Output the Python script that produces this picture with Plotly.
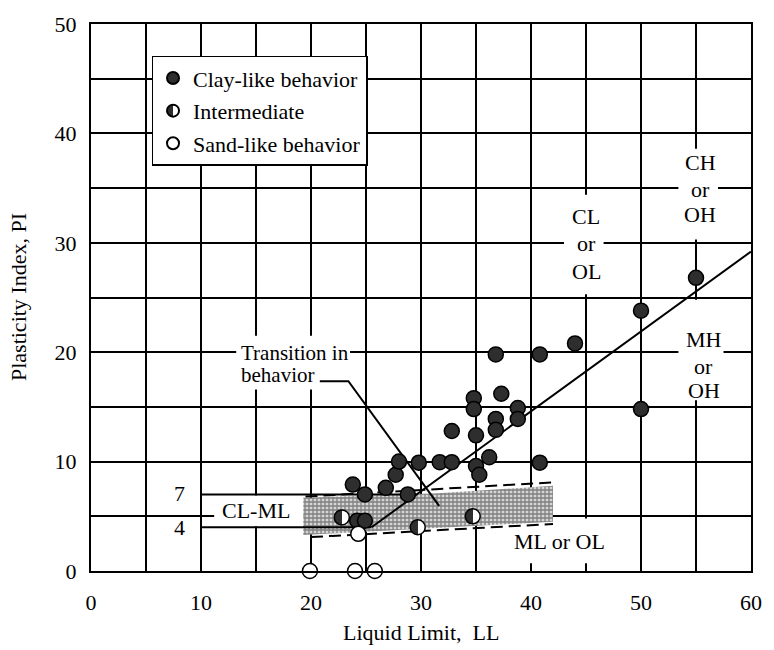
import plotly.graph_objects as go

# Soil samples: liquid limit (LL) and plasticity index (PI)
clay_ll = [23.8, 24.9, 24.2, 24.9, 26.8, 27.7, 28.0, 28.8, 29.8, 31.7, 32.8, 32.8,
           34.8, 34.8, 35.0, 35.0, 35.3, 36.2, 36.8, 36.8, 36.8, 37.3, 38.8, 38.8,
           40.8, 40.8, 44.0, 50.0, 50.0, 55.0]
clay_pi = [7.9, 7.0, 4.6, 4.6, 7.6, 8.8, 10.0, 7.0, 9.9, 9.95, 9.95, 12.8,
           15.8, 14.8, 12.4, 9.6, 8.8, 10.4, 19.8, 13.9, 12.9, 16.2, 14.9, 13.9,
           19.8, 9.9, 20.8, 23.8, 14.8, 26.8]

mid_ll = [22.8, 29.7, 34.7]
mid_pi = [4.9, 4.0, 5.0]

sand_ll = [19.9, 24.0, 25.8, 24.3]
sand_pi = [0.0, 0.0, 0.0, 3.4]

# Casagrande A-line and the CL-ML limits
aline_ll = [25.5, 60.0]
aline_pi = [4.0, 29.2]
pi7_ll = [10.0, 29.6]
pi7_pi = [7.0, 7.0]
pi4_ll = [10.0, 25.5]
pi4_pi = [4.0, 4.0]

# Transition zone (shaded band) and its dashed bounds
band_top_ll = [19.3, 31.5, 42.0]
band_top_pi = [6.7, 7.1, 7.8]
band_bot_ll = [42.0, 19.3]
band_bot_pi = [4.5, 3.3]
dash_top_ll = [19.5, 42.0]
dash_top_pi = [6.8, 8.1]
dash_bot_ll = [20.0, 42.0]
dash_bot_pi = [3.1, 4.3]

# Leader line from the "Transition in behavior" note
lead_ll = [20.8, 23.4, 31.65]
lead_pi = [17.35, 17.35, 5.95]

SERIF = "Liberation Serif"
FS = 22

fig = go.Figure()

# white masks behind the text labels (above grid, below traces)
masks = [
    (13.2, 16.6, 23.55, 21.5),   # Transition in behavior
    (11.2, 4.1, 19.3, 6.9),      # CL-ML
    (43.0, 25.3, 46.6, 34.4),    # CL or OL
    (53.4, 30.3, 57.0, 38.6),    # CH or OH
    (53.4, 15.6, 57.5, 24.8),    # MH or OH
    (38.1, 0.7, 47.2, 4.8),      # ML or OL
]
for x0, y0, x1, y1 in masks:
    fig.add_shape(type="rect", xref="x", yref="y", x0=x0, y0=y0, x1=x1, y1=y1,
                  fillcolor="white", line=dict(width=0), layer="between")

# shaded transition band
fig.add_trace(go.Scatter(
    x=band_top_ll + band_bot_ll + band_top_ll[:1],
    y=band_top_pi + band_bot_pi + band_top_pi[:1],
    mode="lines", fill="toself", line=dict(width=0),
    fillcolor="#c0c0c0",
    fillpattern=dict(shape="+", size=4, solidity=0.55, fgcolor="#2a2a2a", bgcolor="#d6d6d6"),
    hoverinfo="skip", showlegend=False))

for xs, ys in [(dash_top_ll, dash_top_pi), (dash_bot_ll, dash_bot_pi)]:
    fig.add_trace(go.Scatter(x=xs, y=ys, mode="lines",
                             line=dict(color="black", width=2, dash="12px,6px"),
                             hoverinfo="skip", showlegend=False))

for xs, ys in [(aline_ll, aline_pi), (pi7_ll, pi7_pi), (pi4_ll, pi4_pi), (lead_ll, lead_pi)]:
    fig.add_trace(go.Scatter(x=xs, y=ys, mode="lines",
                             line=dict(color="black", width=2),
                             hoverinfo="skip", showlegend=False))

# sample points
fig.add_trace(go.Scatter(
    x=clay_ll, y=clay_pi, mode="markers", name="Clay-like behavior",
    legendgroup="a",
    marker=dict(size=15, color="#2e2e2e", line=dict(color="black", width=1.5)),
    cliponaxis=False))
fig.add_trace(go.Scatter(
    x=mid_ll, y=mid_pi, mode="markers", name="Intermediate",
    legendgroup="b",
    marker=dict(size=15, color="#2e2e2e", line=dict(color="black", width=1.5),
                gradient=dict(type="horizontal", color="white")),
    cliponaxis=False))
fig.add_trace(go.Scatter(
    x=sand_ll, y=sand_pi, mode="markers", name="Sand-like behavior",
    legendgroup="c",
    marker=dict(size=15, color="white", line=dict(color="black", width=1.5)),
    cliponaxis=False))

# region labels
labels = [
    ("CL", 45.0, 32.4), ("or", 45.0, 29.9), ("OL", 45.0, 27.4),
    ("CH", 55.4, 37.3), ("or", 55.4, 34.9), ("OH", 55.4, 32.6),
    ("MH", 55.7, 21.2), ("or", 55.7, 18.7), ("OH", 55.7, 16.5),
    ("ML or OL", 42.6, 2.7), ("CL-ML", 15.0, 5.5),
    ("7", 8.0, 7.05), ("4", 8.0, 4.0),
]
for txt, lx, ly in labels:
    fig.add_annotation(x=lx, y=ly, xref="x", yref="y", text=txt, showarrow=False,
                       font=dict(family=SERIF, size=FS, color="black"))

for txt, ly in [("Transition in", 19.9), ("behavior", 17.9)]:
    fig.add_annotation(x=13.45, y=ly, xref="x", yref="y", xanchor="left", text=txt,
                       showarrow=False, font=dict(family=SERIF, size=21, color="black"))

# axis titles
fig.add_annotation(x=0.5, y=-0.112, xref="paper", yref="paper", yanchor="middle",
                   text="Liquid Limit,  LL", showarrow=False,
                   font=dict(family=SERIF, size=FS, color="black"))
fig.add_annotation(x=-0.1098, y=0.5, xref="paper", yref="paper", xanchor="center",
                   yanchor="middle", text="Plasticity Index, PI",
                   textangle=-90, showarrow=False,
                   font=dict(family=SERIF, size=FS, color="black"))

axis_common = dict(
    showgrid=True, gridcolor="black", gridwidth=2,
    showline=True, linecolor="black", linewidth=2, mirror=True,
    zeroline=False, ticks="", tickfont=dict(family=SERIF, size=FS, color="black"),
)
fig.update_xaxes(range=[0, 60], tick0=0, dtick=10, ticklabelstandoff=11,
                 minor=dict(dtick=5, showgrid=True, gridcolor="black", gridwidth=2),
                 **axis_common)
fig.update_yaxes(range=[0, 50], tick0=0, dtick=10, ticklabelstandoff=8,
                 minor=dict(dtick=5, showgrid=True, gridcolor="black", gridwidth=2),
                 **axis_common)

fig.update_layout(
    width=774, height=650,
    margin=dict(l=91, r=18, t=18, b=79),
    paper_bgcolor="white", plot_bgcolor="white",
    font=dict(family=SERIF, size=FS, color="black"),
    legend=dict(x=0.0917, y=0.942, xanchor="left", yanchor="top",
                bgcolor="white", bordercolor="black", borderwidth=1.5,
                font=dict(family=SERIF, size=FS, color="black"),
                itemsizing="constant", tracegroupgap=1, traceorder="grouped"),
)

# give the intermediate markers a hard half/half split instead of a smooth blend
half_fill = """
(function(){
  function split(){
    document.querySelectorAll('linearGradient').forEach(function(g){
      var stops = g.querySelectorAll('stop');
      stops.forEach(function(s){ s.setAttribute('offset', '50%'); });
    });
  }
  split();
  setTimeout(split, 50);
  setTimeout(split, 300);
  var gd = document.getElementById('{plot_id}');
  if (gd && gd.on) { gd.on('plotly_afterplot', split); }
})();
"""

fig.write_html("out.html", post_script=half_fill)
